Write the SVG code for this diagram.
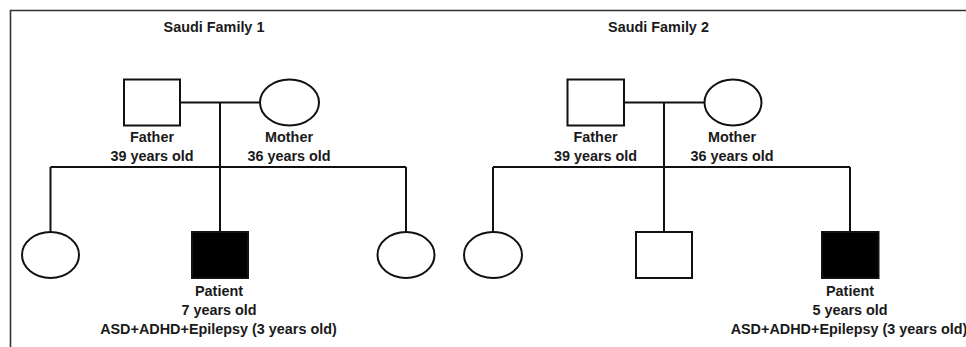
<svg xmlns="http://www.w3.org/2000/svg" width="966" height="347" viewBox="0 0 966 347">
<style>
.s{fill:#fff;stroke:#111;stroke-width:2}
.a{fill:#000;stroke:#111;stroke-width:2}
.c{fill:none;stroke:#111;stroke-width:2}
.f{fill:none;stroke:#333;stroke-width:1.6}
text{font-family:"Liberation Sans",Arial,sans-serif;font-weight:bold;font-size:14.4px;fill:#1a1a1a;text-anchor:middle}
</style>
<rect width="966" height="347" fill="#fff"/>
<path class="f" d="M10.5,347 V10.5 H966"/>
<g id="connectors">
<path class="c" d="M180,102.5 H260 M220,102.5 V231 M50.5,167 H406 M50.5,167 V232 M406,167 V232"/>
<path class="c" d="M624,102.5 H704.5 M664,102.5 V232 M493,167 H850 M493,167 V232 M850,167 V232"/>
</g>
<g id="title1"><text x="214" y="32">Saudi Family 1</text></g>
<g id="father1"><rect class="s" x="124" y="79.5" width="56" height="46"/><text x="152" y="142">Father</text><text x="152" y="161">39 years old</text></g>
<g id="mother1"><ellipse class="s" cx="289.5" cy="102.5" rx="29.5" ry="23"/><text x="289" y="142">Mother</text><text x="289" y="161">36 years old</text></g>
<g id="daughter1a"><ellipse class="s" cx="50.5" cy="255" rx="28.5" ry="23"/></g>
<g id="patient1"><rect class="a" x="192" y="232" width="56" height="46"/><text x="219" y="296">Patient</text><text x="219" y="315">7 years old</text><text x="218.5" y="334">ASD+ADHD+Epilepsy (3 years old)</text></g>
<g id="daughter1b"><ellipse class="s" cx="406" cy="255" rx="28.5" ry="23"/></g>
<g id="title2"><text x="658.5" y="32">Saudi Family 2</text></g>
<g id="father2"><rect class="s" x="567.5" y="79.5" width="56.5" height="46"/><text x="595.5" y="142">Father</text><text x="595.5" y="161">39 years old</text></g>
<g id="mother2"><ellipse class="s" cx="733" cy="102.5" rx="28.5" ry="23"/><text x="732" y="142">Mother</text><text x="732" y="161">36 years old</text></g>
<g id="daughter2"><ellipse class="s" cx="493" cy="255" rx="29" ry="23"/></g>
<g id="brother2"><rect class="s" x="636" y="232" width="56" height="46"/></g>
<g id="patient2"><rect class="a" x="822" y="232" width="56.5" height="46"/><text x="850" y="296">Patient</text><text x="850" y="315">5 years old</text><text x="849" y="334">ASD+ADHD+Epilepsy (3 years old)</text></g>
</svg>
